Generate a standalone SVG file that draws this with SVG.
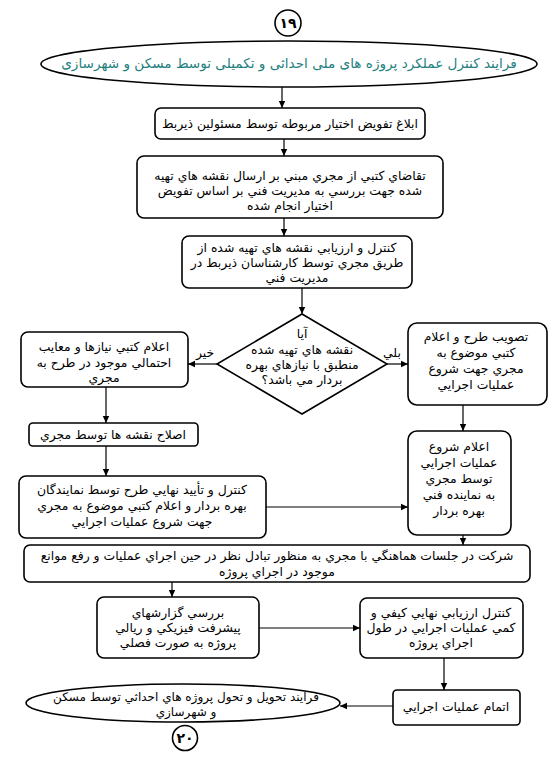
<svg xmlns="http://www.w3.org/2000/svg" width="559" height="768" viewBox="0 0 559 768">
<defs>
<marker id="ah" markerWidth="8" markerHeight="8" refX="7" refY="4" orient="auto" markerUnits="userSpaceOnUse">
<path d="M0,0.8 L7,4 L0,7.2 Z" fill="#000"/>
</marker>
<style>
.box{fill:#fff;stroke:#000;stroke-width:1.6}
.t{font-family:"DejaVu Sans",sans-serif;font-size:12.4px;fill:#000;text-anchor:middle}
.te{font-family:"DejaVu Sans",sans-serif;font-size:12px;fill:#000;text-anchor:middle}
.num{font-family:"DejaVu Sans",sans-serif;font-size:14px;font-weight:bold;fill:#000;text-anchor:middle}
.title{font-family:"DejaVu Sans",sans-serif;font-size:13.6px;fill:#1f7f80;text-anchor:middle}
.c{stroke:#000;stroke-width:1.2;fill:none;marker-end:url(#ah)}
</style>
</defs>
<rect width="559" height="768" fill="#fff"/>
<g id="c19"><circle class="box" cx="288" cy="23" r="13"/><text class="num" x="288" y="28">۱۹</text></g>
<g id="start"><ellipse class="box" cx="289" cy="64" rx="248" ry="23"/><text class="title" x="289" y="68">فرايند کنترل عملکرد پروژه های ملی احداثی و تکمیلی توسط مسکن و شهرسازی</text></g>
<g id="n1"><rect class="box" x="155" y="108" width="270" height="31" rx="6"/><text class="t" x="290" y="128">ابلاغ تفويض اختيار مربوطه توسط مسئولين ذيربط</text></g>
<g id="n2"><rect class="box" x="137" y="156" width="306" height="62" rx="7"/>
<text class="t" x="290" y="180">تقاضاي کتبي از مجري مبني بر ارسال نقشه هاي تهيه</text>
<text class="t" x="290" y="195">شده جهت بررسي به مديريت فني بر اساس تفويض</text>
<text class="t" x="290" y="210">اختيار انجام شده</text></g>
<g id="n3"><rect class="box" x="182" y="236" width="230" height="52" rx="7"/>
<text class="t" x="297" y="252">کنترل و ارزيابي نقشه هاي تهيه شده از</text>
<text class="t" x="297" y="267">طريق مجري توسط کارشناسان ذيربط در</text>
<text class="t" x="297" y="282">مديريت فني</text></g>
<g id="d1"><polygon class="box" points="302,314 387,364 302,414 217,364"/>
<text class="t" x="302" y="338">آيا</text>
<text class="t" x="302" y="354">نقشه هاي تهيه شده</text>
<text class="t" x="302" y="369">منطبق با نيازهاي بهره</text>
<text class="t" x="302" y="384">بردار مي باشد؟</text></g>
<g id="l1"><rect class="box" x="21" y="332" width="167" height="55" rx="7"/>
<text class="t" x="104" y="351">اعلام کتبي نيازها و معايب</text>
<text class="t" x="104" y="367">احتمالي موجود در طرح به</text>
<text class="t" x="104" y="382">مجري</text></g>
<g id="r1"><rect class="box" x="408" y="323" width="139" height="82" rx="9"/>
<text class="t" x="476" y="341">تصويب طرح و اعلام</text>
<text class="t" x="476" y="357">کتبي موضوع به</text>
<text class="t" x="476" y="373">مجري جهت شروع</text>
<text class="t" x="476" y="389">عمليات اجرايي</text></g>
<g id="l2"><rect class="box" x="29" y="423" width="169" height="23" rx="4"/>
<text class="t" x="113" y="439">اصلاح نقشه ها توسط مجري</text></g>
<g id="l3"><rect class="box" x="19" y="476" width="247" height="62" rx="7"/>
<text class="t" x="142" y="494">کنترل و تأييد نهايي طرح توسط نمايندگان</text>
<text class="t" x="142" y="510">بهره بردار و اعلام کتبي موضوع به مجري</text>
<text class="t" x="142" y="526">جهت شروع عمليات اجرايي</text></g>
<g id="r2"><rect class="box" x="408" y="431" width="103" height="104" rx="9"/>
<text class="t" x="459" y="451">اعلام شروع</text>
<text class="t" x="459" y="467">عمليات اجرايي</text>
<text class="t" x="459" y="483">توسط مجري</text>
<text class="t" x="459" y="499">به نماينده فني</text>
<text class="t" x="459" y="515">بهره بردار</text></g>
<g id="w1"><rect class="box" x="24" y="545" width="506" height="37" rx="6"/>
<text class="t" x="277" y="560">شرکت در جلسات هماهنگي با مجري به منظور تبادل نظر در حين اجراي عمليات و رفع موانع</text>
<text class="t" x="277" y="576">موجود در اجراي پروژه</text></g>
<g id="b1"><rect class="box" x="97" y="597" width="162" height="61" rx="7"/>
<text class="t" x="178" y="617">بررسي گزارشهاي</text>
<text class="t" x="178" y="632">پيشرفت فيزيکي و ريالي</text>
<text class="t" x="178" y="647">پروژه به صورت فصلي</text></g>
<g id="b2"><rect class="box" x="360" y="598" width="163" height="60" rx="7"/>
<text class="t" x="441" y="617">کنترل ارزيابي نهايي کيفي و</text>
<text class="t" x="441" y="632">کمي عمليات اجرايي در طول</text>
<text class="t" x="441" y="647">اجراي پروژه</text></g>
<g id="e1"><rect class="box" x="393" y="690" width="127" height="35" rx="4"/>
<text class="t" x="456" y="711">اتمام عمليات اجرايي</text></g>
<g id="end"><ellipse class="box" cx="183" cy="703" rx="157" ry="19"/>
<text class="te" x="186" y="701">فرايند تحويل و تحول پروژه هاي احداثي توسط مسکن</text>
<text class="te" x="186" y="716">و شهرسازي</text></g>
<g id="c20"><circle class="box" cx="185" cy="738" r="12.5"/><text class="num" x="185" y="743">۲۰</text></g>
<g id="connectors">
<line class="c" x1="282" y1="87" x2="282" y2="108"/>
<line class="c" x1="284" y1="139" x2="284" y2="156"/>
<line class="c" x1="284" y1="218" x2="284" y2="236"/>
<line class="c" x1="302" y1="288" x2="302" y2="314"/>
<line class="c" x1="217" y1="364" x2="188" y2="364"/>
<line class="c" x1="387" y1="364" x2="408" y2="364"/>
<line class="c" x1="106" y1="387" x2="106" y2="423"/>
<line class="c" x1="106" y1="446" x2="106" y2="476"/>
<line class="c" x1="266" y1="507" x2="408" y2="507"/>
<line class="c" x1="463" y1="405" x2="463" y2="431"/>
<line class="c" x1="463" y1="535" x2="463" y2="545"/>
<line class="c" x1="172" y1="582" x2="172" y2="597"/>
<line class="c" x1="259" y1="628" x2="360" y2="628"/>
<line class="c" x1="444" y1="658" x2="444" y2="690"/>
<line class="c" x1="393" y1="706" x2="340" y2="706"/>
<text class="t" x="205" y="357">خير</text>
<text class="t" x="392" y="357">بلي</text>
</g>
</svg>
